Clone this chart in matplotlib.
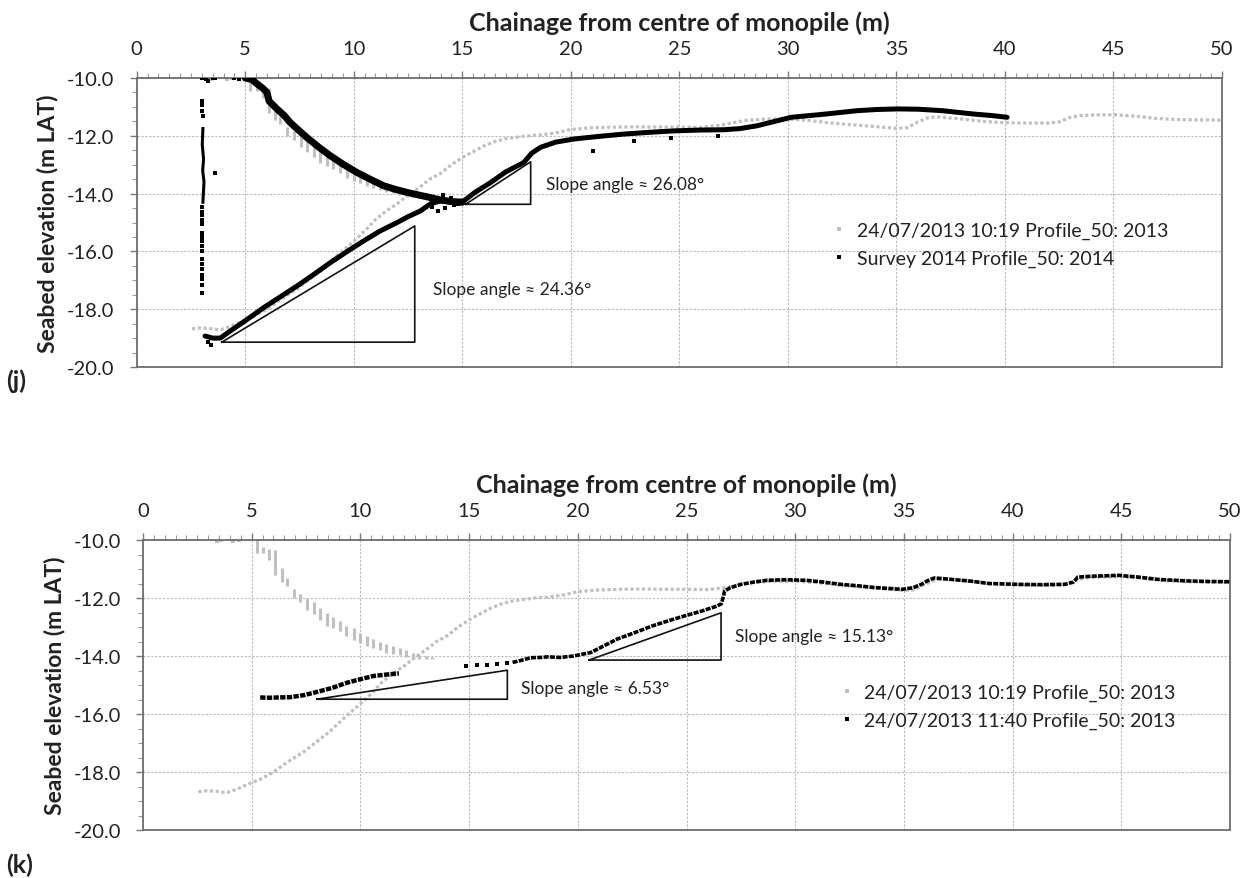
import matplotlib
matplotlib.use("Agg")
import matplotlib.pyplot as plt
from matplotlib.lines import Line2D

plt.rcParams['font.family'] = ['Lato', 'DejaVu Sans']

# ---------------- data ----------------
# 24/07/2013 10:19 Profile_50: 2013 (grey) - lower / outer branch
g_low_x = [2.55, 2.9, 3.3, 3.7, 3.9, 4.3, 4.9, 5.4, 6.0, 6.6, 7.4, 8.0, 8.6, 9.3, 10.0, 10.5,
           11.0, 11.5, 12.0, 12.5, 13.0, 13.5, 14.0, 14.5, 15.0, 15.5, 16.0, 16.5, 17.0, 17.5,
           18.0, 18.6, 19.3, 20.0, 21.0, 22.0, 23.0, 24.0, 25.0, 26.0, 27.0, 28.0, 29.0, 30.0,
           31.0, 32.0, 33.0, 34.0, 35.0, 35.5, 36.0, 36.5, 37.0, 38.0, 39.0, 40.0, 41.0, 42.0,
           42.5, 43.0, 43.5, 44.0, 45.0, 46.0, 47.0, 48.0, 49.0, 50.0]
g_low_y = [-18.68, -18.65, -18.66, -18.70, -18.70, -18.60, -18.40, -18.25, -18.00, -17.68,
           -17.30, -16.95, -16.60, -16.10, -15.65, -15.30, -14.90, -14.60, -14.35, -14.05,
           -13.80, -13.50, -13.30, -13.00, -12.75, -12.55, -12.35, -12.20, -12.10, -12.05,
           -12.00, -11.97, -11.90, -11.78, -11.72, -11.70, -11.69, -11.70, -11.70, -11.71,
           -11.62, -11.47, -11.42, -11.42, -11.47, -11.56, -11.62, -11.68, -11.74, -11.72,
           -11.52, -11.36, -11.35, -11.42, -11.50, -11.55, -11.56, -11.56, -11.52, -11.36,
           -11.30, -11.28, -11.27, -11.32, -11.40, -11.44, -11.45, -11.46]
# grey inner branch (vertical streaks of points)
g_top_x = [3.4, 3.6, 4.16, 4.4]
g_top_y = [-10.03, -10.0, -10.03, -10.0]
g_str_x = [5.24, 5.54, 5.80, 6.08, 6.39, 6.62, 6.93, 7.24, 7.55, 7.85, 8.15, 8.45, 8.75, 9.05,
           9.35, 9.70, 10.0, 10.3, 10.6, 10.9, 11.2, 11.5, 11.8, 12.1, 12.4, 12.7, 13.0, 13.3]
g_str_hi = [-10.0, -10.25, -10.30, -10.35, -10.95, -11.30, -11.70, -11.85, -12.00, -12.15,
            -12.35, -12.50, -12.65, -12.80, -12.95, -13.05, -13.20, -13.30, -13.40, -13.50,
            -13.60, -13.65, -13.72, -13.80, -13.88, -13.95, -14.00, -14.05]
g_str_lo = [-10.45, -10.45, -10.70, -11.20, -11.45, -11.60, -12.00, -12.15, -12.40, -12.55,
            -12.75, -12.95, -13.05, -13.15, -13.30, -13.45, -13.55, -13.65, -13.72, -13.80,
            -13.88, -13.93, -13.98, -14.05, -14.10, -14.12, -14.12, -14.12]

# Survey 2014 Profile_50: 2014 (black, top panel)
s14_in_x = [5.0, 5.3, 5.54, 5.8, 6.0, 6.1, 6.46, 6.8, 7.07, 7.45, 7.84, 8.4, 8.92, 9.5,
            10.15, 10.8, 11.38, 11.9, 12.46, 13.0, 13.54, 14.0, 14.45, 15.0]
s14_in_y = [-10.0, -10.05, -10.2, -10.35, -10.5, -10.8, -11.07, -11.3, -11.54, -11.8, -12.06,
            -12.4, -12.69, -12.98, -13.27, -13.52, -13.73, -13.85, -13.96, -14.05, -14.14,
            -14.22, -14.27, -14.3]
s14_out_x = [3.15, 3.5, 3.85, 4.3, 5.0, 5.84, 6.6, 7.38, 8.15, 8.92, 9.7, 10.45, 11.2, 12.0,
             12.5, 13.07, 13.54, 14.0, 14.5, 15.07, 15.6, 16.3, 17.0, 17.84, 18.2, 18.6, 19.3,
             20.15, 21.3, 22.45, 23.6, 24.76, 26.0, 27.07, 27.8, 28.6, 29.4, 30.15, 31.0, 31.7,
             32.45, 33.2, 34.1, 35.07, 36.0, 37.1, 38.6, 39.4, 40.1]
s14_out_y = [-18.93, -19.0, -19.0, -18.76, -18.4, -17.95, -17.58, -17.2, -16.8, -16.39, -16.0,
             -15.64, -15.3, -15.0, -14.8, -14.6, -14.35, -14.25, -14.3, -14.25, -13.95, -13.62,
             -13.25, -12.92, -12.6, -12.4, -12.22, -12.11, -12.02, -11.94, -11.88, -11.83,
             -11.8, -11.79, -11.75, -11.65, -11.5, -11.36, -11.3, -11.25, -11.19, -11.13,
             -11.09, -11.07, -11.08, -11.13, -11.25, -11.3, -11.36]
# scattered 2014 points (pile edge column, outliers, scour-base cluster)
s14_col_x = [3.05, 3.02, 3.08, 3.04, 3.1, 3.05]
s14_col_y = [-11.75, -12.3, -12.8, -13.2, -13.6, -14.3]
s14_pts_x = [3.0, 3.2, 3.3, 3.5, 3.6, 4.5, 4.7, 3.0, 3.0, 3.02, 3.05, 3.6, 3.0, 3.0, 3.0,
             3.02, 3.0, 3.0, 3.0, 3.0, 3.02, 3.0, 3.0, 3.0, 3.0, 3.0, 3.0, 3.0, 3.0, 3.3, 3.4,
             13.3, 13.6, 13.9, 14.2, 14.5, 14.8, 13.8, 14.1, 14.6, 21.0, 22.9, 24.6, 26.8]
s14_pts_y = [-10.0, -10.05, -10.1, -10.0, -10.0, -10.0, -10.02, -10.8, -10.95, -11.15, -11.3,
             -13.3, -14.48, -14.62, -14.75, -14.9, -15.05, -15.35, -15.5, -15.65, -15.8, -15.98,
             -16.27, -16.45, -16.6, -16.8, -16.95, -17.15, -17.43, -19.15, -19.25,
             -14.05, -14.45, -14.6, -14.5, -14.15, -14.35, -14.25, -14.05, -14.4, -12.52,
             -12.17, -12.06, -12.0]

# 24/07/2013 11:40 Profile_50: 2013 (black, bottom panel)
p1140_a_x = [5.39, 5.8, 6.2, 6.77, 7.4, 8.0, 8.7, 9.39, 10.0, 10.6, 11.2, 11.77]
p1140_a_y = [-15.43, -15.44, -15.43, -15.42, -15.35, -15.24, -15.1, -14.92, -14.8, -14.69,
             -14.64, -14.6]
p1140_b_x = [14.84, 15.35, 15.84, 16.3, 16.76]
p1140_b_y = [-14.34, -14.32, -14.3, -14.28, -14.25]
p1140_c_x = [17.0, 17.4, 17.83, 18.3, 18.6, 19.2, 19.8, 20.6, 21.2, 21.8, 22.6, 23.4, 24.1,
             24.9, 25.7, 26.4, 26.6, 26.7, 26.75, 27.0, 27.5, 28.1, 28.7, 29.6, 30.5, 31.3,
             32.1, 32.9, 33.65, 34.3, 34.9, 35.4, 35.8, 36.1, 36.4, 37.2, 38.1, 38.9, 40.3,
             41.3, 42.4, 42.8, 43.0, 43.6, 44.9, 45.8, 46.7, 48.0, 49.0, 50.0]
p1140_c_y = [-14.22, -14.15, -14.06, -14.05, -14.03, -14.05, -14.0, -13.88, -13.65, -13.42,
             -13.2, -12.97, -12.8, -12.62, -12.45, -12.28, -12.2, -11.95, -11.76, -11.65,
             -11.53, -11.45, -11.39, -11.37, -11.39, -11.45, -11.53, -11.58, -11.64, -11.67,
             -11.7, -11.65, -11.53, -11.4, -11.31, -11.36, -11.42, -11.5, -11.53, -11.54,
             -11.53, -11.45, -11.28, -11.25, -11.22, -11.28, -11.36, -11.41, -11.43, -11.44]

# slope triangles: (x_start, x_end, y_base, y_top), labels
tri_top = [(3.92, 12.81, -19.14, -15.12), (15.15, 18.15, -14.37, -12.9)]
tri_bot = [(8.0, 16.76, -15.49, -14.49), (20.52, 26.59, -14.14, -12.51)]
lab_top = [("Slope angle \u2248 24.36\u00b0", 13.66, -17.31), ("Slope angle \u2248 26.08\u00b0", 18.84, -13.67)]
lab_bot = [("Slope angle \u2248 6.53\u00b0", 17.37, -15.09), ("Slope angle \u2248 15.13\u00b0", 27.25, -13.31)]

x_ticks = [0, 5, 10, 15, 20, 25, 30, 35, 40, 45, 50]
y_ticks = [-10.0, -12.0, -14.0, -16.0, -18.0, -20.0]

GREY = '#c0c0c0'
DOT = (0, (1, 0.8))
TXT = '#222222'

W, H = 1247, 879
fig = plt.figure(figsize=(W / 100, H / 100), dpi=100)
ax1 = fig.add_axes([136.7 / W, 1 - 368 / H, (1222 - 136.7) / W, (368 - 79) / H])
ax2 = fig.add_axes([143 / W, 1 - 831 / H, (1230 - 143) / W, (831 - 541) / H])


def style(ax):
    ax.set_xlim(0, 50)
    ax.set_ylim(-20, -10)
    ax.xaxis.tick_top()
    ax.xaxis.set_label_position('top')
    ax.set_xticks(x_ticks)
    ax.set_xticks([v / 2 for v in range(0, 101)], minor=True)
    ax.set_yticks(y_ticks)
    ax.set_yticks([-10 - v / 2 for v in range(0, 21)], minor=True)
    ax.set_yticklabels([f"{v:.1f}" for v in y_ticks])
    ax.tick_params(which='major', direction='out', length=5, width=1, color='#7a7a7a',
                   labelsize=14.5, labelcolor=TXT)
    ax.tick_params(axis='x', which='major', pad=10)
    ax.tick_params(axis='y', which='major', pad=11)
    ax.tick_params(which='minor', direction='out', length=3.5, width=0.8, color='#9a9a9a')
    ax.tick_params(axis='x', which='both', top=True, bottom=False)
    ax.grid(True, which='major', color='#b8b8b8', linestyle=(0, (2, 1.5)), lw=0.8)
    ax.set_axisbelow(True)
    for s in ax.spines.values():
        s.set_color('#6e6e6e')
        s.set_linewidth(1.3)
    ax.set_xlabel("Chainage from centre of monopile (m)", fontsize=18, fontweight='bold',
                  labelpad=7, color=TXT)
    ax.set_ylabel("Seabed elevation (m LAT)", fontsize=16.5, fontweight='bold', labelpad=6,
                  color=TXT)


def grey_profile(ax):
    ax.plot(g_low_x, g_low_y, color=GREY, lw=2.3, ls=DOT, zorder=2)
    ax.scatter(g_top_x, g_top_y, s=5, marker='s', color=GREY, lw=0, zorder=2)
    ax.vlines(g_str_x, g_str_lo, g_str_hi, colors=GREY, lw=2.2, zorder=2)


def triangles(ax, tris, labs):
    for x0, x1, yb, yt in tris:
        ax.plot([x0, x1, x1, x0], [yb, yb, yt, yb], color='#111111', lw=1.2, zorder=4)
    for txt, x, y in labs:
        ax.text(x, y, txt, fontsize=12.5, va='center', ha='left', color=TXT, zorder=5)


# ---------- top panel (j) ----------
style(ax1)
grey_profile(ax1)
ax1.plot(s14_in_x, s14_in_y, color='k', lw=5, solid_capstyle='round', zorder=3)
ax1.plot(s14_out_x, s14_out_y, color='k', lw=3.6, solid_capstyle='round', zorder=3)
ax1.plot(s14_col_x, s14_col_y, color='k', lw=2.2, zorder=3)
ax1.scatter(s14_pts_x, s14_pts_y, s=6, marker='s', color='k', lw=0, zorder=3)
triangles(ax1, tri_top, lab_top)
h_grey = Line2D([], [], marker='s', ms=2.2, ls='none', color=GREY, mew=0)
h_blk = Line2D([], [], marker='s', ms=2.2, ls='none', color='k', mew=0)
ax1.legend([h_grey, h_blk], ["24/07/2013 10:19 Profile_50: 2013", "Survey 2014 Profile_50: 2014"],
           loc='center left', bbox_to_anchor=(0.633, 0.425), frameon=False, fontsize=14,
           handlelength=0.6, handletextpad=0.6, labelspacing=0.55, borderpad=0,
           labelcolor=TXT)

# ---------- bottom panel (k) ----------
style(ax2)
grey_profile(ax2)
ax2.plot(p1140_a_x, p1140_a_y, color='k', lw=3.2, ls=(0, (1.2, 0.3)), zorder=3)
ax2.scatter(p1140_b_x, p1140_b_y, s=6, marker='s', color='k', lw=0, zorder=3)
ax2.plot(p1140_c_x, p1140_c_y, color='k', lw=2.6, ls=(0, (1.4, 0.35)), zorder=3)
triangles(ax2, tri_bot, lab_bot)
ax2.legend([h_grey, h_blk], ["24/07/2013 10:19 Profile_50: 2013", "24/07/2013 11:40 Profile_50: 2013"],
           loc='center left', bbox_to_anchor=(0.633, 0.425), frameon=False, fontsize=14,
           handlelength=0.6, handletextpad=0.6, labelspacing=0.55, borderpad=0,
           labelcolor=TXT)

fig.text(6 / W, 1 - 381 / H, "(j)", fontsize=18, fontweight='bold', va='center', color=TXT)
fig.text(6 / W, 1 - 865 / H, "(k)", fontsize=18, fontweight='bold', va='center', color=TXT)

fig.savefig("out.png", dpi=100, facecolor='white')
